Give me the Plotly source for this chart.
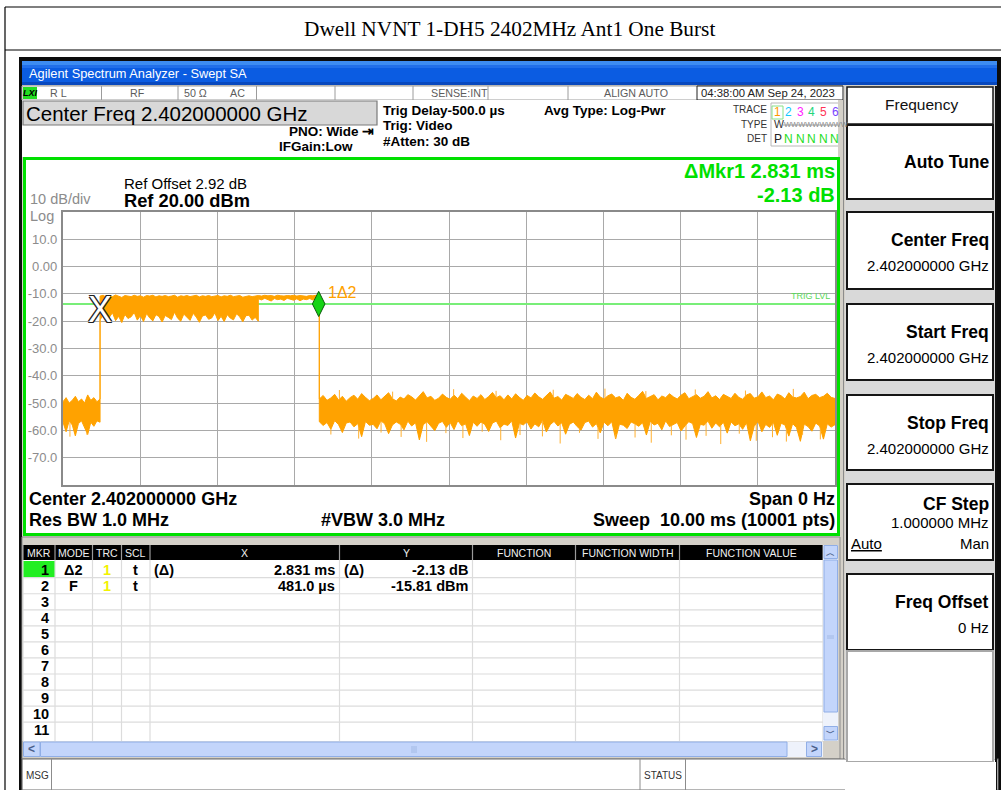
import numpy as np
import plotly.graph_objects as go

SANS = "Liberation Sans, Arial, sans-serif"
SERIF = "Liberation Serif, Times New Roman, serif"
W, H = 1001, 790

# ---------------------------------------------------------------------------
# Zero-span sweep (time in ms, level in dBm). Each segment keeps the upper and
# lower envelope of the displayed trace, sampled evenly between its end times.
# ---------------------------------------------------------------------------
SWEEP_MS = 10.0
REF_LEVEL_DBM = 20.0
BOTTOM_LEVEL_DBM = -80.0
TRIG_LEVEL_DBM = -13.7

pre_t0, pre_t1 = 0.00, 0.48
pre_hi = [-49.5, -48.0, -50.0, -49.0, -47.5, -49.5, -48.5, -50.0, -47.0, -49.0, -48.0, -49.5, -48.5]
pre_lo = [-57.0, -60.5, -56.5, -58.0, -62.0, -57.5, -56.5, -59.0, -61.5, -57.0, -58.5, -56.5, -57.0]

burst_a_t0, burst_a_t1 = 0.48, 2.53
burst_a_hi = [-10.8, -10.5, -11.2, -10.6, -11.0, -10.4, -10.9, -11.3, -10.6, -10.8,
              -11.0, -10.5, -10.9, -10.7, -11.2, -10.6, -10.8, -10.5, -11.1, -10.7,
              -10.9, -10.6, -11.0, -10.8, -10.5, -11.2, -10.7, -10.9, -10.6, -11.0,
              -10.8, -10.5, -11.1, -10.7, -10.9, -10.6, -11.0, -10.8, -10.6, -11.1,
              -10.7, -10.9, -10.5, -11.0, -10.8, -10.6, -11.2, -10.9, -10.7, -11.0,
              -10.8, -10.6]
burst_a_lo = [-19.5, -17.8, -20.2, -18.5, -16.9, -19.8, -18.2, -20.5, -17.5, -19.0,
              -18.4, -16.8, -19.6, -18.0, -20.1, -17.2, -18.8, -19.9, -17.6, -18.3,
              -20.3, -17.9, -18.6, -19.4, -16.7, -18.9, -20.0, -17.4, -18.7, -19.7,
              -17.1, -18.5, -20.4, -18.1, -17.7, -19.3, -18.8, -16.9, -19.8, -18.2,
              -20.1, -17.6, -18.9, -19.5, -17.3, -18.4, -20.2, -18.0, -17.8, -19.6,
              -18.6, -20.0]

burst_b_t0, burst_b_t1 = 2.53, 3.32
burst_b_hi = [-10.6, -10.8, -10.5, -10.7, -10.6, -10.9, -10.5, -10.7, -10.8, -10.6,
              -10.7, -10.5, -10.8, -10.6, -10.7, -10.9, -10.6, -10.7, -10.5, -10.7]
burst_b_lo = [-11.8, -12.2, -11.6, -12.0, -12.6, -11.7, -12.1, -11.9, -12.4, -11.6,
              -12.0, -12.3, -11.8, -12.5, -11.9, -12.1, -11.7, -12.2, -11.9, -12.0]

post_t0, post_t1 = 3.32, 10.00
post_hi = [-48.5, -47.2, -49.0, -48.1, -46.8, -48.9, -47.5, -49.3, -48.0, -47.1,
           -48.6, -46.5, -47.9, -49.1, -48.3, -47.0, -48.8, -47.6, -46.2, -48.4,
           -49.2, -47.8, -48.5, -46.9, -47.7, -48.9, -47.3, -45.8, -48.1, -47.5,
           -49.0, -48.2, -46.7, -47.9, -48.6, -47.1, -48.4, -46.4, -47.8, -49.1,
           -47.4, -48.3, -46.9, -48.7, -47.6, -46.1, -48.0, -47.3, -48.8, -47.0,
           -48.5, -46.6, -47.9, -49.0, -47.2, -48.1, -46.3, -47.7, -48.6, -47.4,
           -45.9, -48.2, -47.6, -48.9, -46.8, -47.5, -48.3, -46.5, -47.9, -48.7,
           -47.1, -48.4, -46.0, -47.8, -48.5, -47.3, -46.7, -48.1, -47.6, -49.0,
           -46.4, -47.9, -48.6, -47.2, -45.7, -48.3, -47.5, -46.9, -48.8, -47.4,
           -48.0, -46.6, -47.7, -48.5, -47.1, -46.2, -48.4, -47.8, -46.9, -48.2,
           -47.5, -45.8, -48.1, -47.3, -48.7, -46.8, -47.6, -48.3, -46.4, -47.9,
           -48.6, -47.0, -46.5, -48.2, -47.7, -45.9, -48.0, -47.4, -48.8, -46.7,
           -47.3, -48.5, -46.2, -47.8, -48.1, -47.6, -46.0, -48.4, -47.2, -46.8,
           -48.0, -47.5, -46.4, -47.9, -48.3]
post_lo = [-56.8, -58.2, -57.1, -59.6, -56.4, -57.9, -60.8, -57.3, -56.9, -58.7,
           -57.5, -62.3, -56.7, -58.1, -57.8, -59.4, -56.5, -57.6, -61.2, -58.0,
           -56.9, -57.7, -59.8, -56.6, -58.4, -57.2, -63.5, -57.9, -56.8, -58.6,
           -60.1, -57.4, -56.7, -58.9, -57.1, -59.7, -56.4, -58.3, -57.6, -61.9,
           -57.0, -58.5, -56.9, -57.8, -60.4, -57.3, -56.6, -59.1, -57.7, -58.2,
           -56.5, -62.8, -57.4, -58.0, -56.8, -59.5, -57.6, -58.7, -56.4, -60.6,
           -57.9, -56.7, -58.4, -57.2, -61.4, -57.8, -56.9, -58.6, -59.9, -57.1,
           -56.6, -58.8, -57.5, -60.9, -57.0, -58.3, -56.8, -63.1, -57.7, -58.1,
           -59.3, -56.9, -57.6, -58.5, -57.2, -61.7, -56.7, -58.0, -57.4, -59.8,
           -56.5, -58.6, -57.9, -57.1, -60.2, -58.4, -56.8, -57.5, -62.6, -57.8,
           -58.1, -56.6, -59.2, -57.3, -58.7, -57.0, -61.0, -56.9, -58.3, -57.6,
           -59.6, -57.2, -63.8, -58.5, -56.7, -60.5, -57.8, -58.9, -57.1, -61.8,
           -57.4, -58.0, -62.1, -57.5, -59.0, -64.0, -57.7, -58.6, -60.3, -57.3,
           -58.4, -63.2, -57.6, -58.8, -57.9]

# isolated narrow excursions of the noise floor
spike_dn_t = [0.09, 0.31, 3.47, 3.83, 4.12, 4.38, 4.71, 4.96, 5.18, 5.43, 5.67, 5.92,
              6.21, 6.44, 6.69, 6.93, 7.16, 7.41, 7.62, 7.88, 8.07, 8.33, 8.52,
              8.76, 8.98, 9.19, 9.37, 9.58, 9.81]
spike_dn_y = [-62.3, -61.6, -61.5, -63.0, -60.8, -62.4, -64.2, -61.0, -62.8, -60.5,
              -63.6, -61.7, -62.2, -64.8, -60.9, -63.1, -61.4, -62.6, -64.5, -61.8,
              -63.4, -62.0, -65.0, -61.2, -63.8, -62.5, -64.1, -61.6, -63.3]
spike_up_t = [3.58, 4.27, 5.06, 5.61, 6.35, 7.02, 7.55, 8.19, 8.84, 9.46]
spike_up_y = [-45.2, -45.8, -44.9, -45.5, -45.1, -44.7, -45.6, -45.0, -45.4, -44.8]

# markers
MKR2_TIME_US = 481.0
MKR2_LEVEL_DBM = -15.81
MKR1_DELTA_MS = 2.831
MKR1_DELTA_DB = -2.13

y_tick_vals = [10, 0, -10, -20, -30, -40, -50, -60, -70]
y_tick_text = ["10.0", "0.00", "-10.0", "-20.0", "-30.0", "-40.0", "-50.0", "-60.0", "-70.0"]

# marker table
table_cols = ["MKR", "MODE", "TRC", "SCL", "X", "Y", "FUNCTION", "FUNCTION WIDTH", "FUNCTION VALUE"]
mkr_rows = [str(i) for i in range(1, 12)]
mkr_mode = ["Δ2", "F"]
mkr_trc = ["1", "1"]
mkr_scl = ["t", "t"]
mkr_xref = ["(Δ)", ""]
mkr_x = [f"{MKR1_DELTA_MS:.3f} ms", f"{MKR2_TIME_US:.1f} µs"]
mkr_yref = ["(Δ)", ""]
mkr_y = [f"{MKR1_DELTA_DB:.2f} dB", f"{MKR2_LEVEL_DBM:.2f} dBm"]

# softkey menu
softkeys = [("Auto Tune", None), ("Center Freq", "2.402000000 GHz"), ("Start Freq", "2.402000000 GHz"),
            ("Stop Freq", "2.402000000 GHz"), ("CF Step", "1.000000 MHz"), ("Freq Offset", "0 Hz")]

# ---------------------------------------------------------------------------
# helpers working in screen pixels (origin top-left)
# ---------------------------------------------------------------------------
shapes, annots = [], []


def px(x):
    return x / W


def py(y):
    return 1 - y / H


def rect(x0, y0, x1, y1, fill=None, line=None, lw=1.0, layer="below"):
    shapes.append(dict(type="rect", xref="paper", yref="paper", x0=px(x0), x1=px(x1), y0=py(y1), y1=py(y0),
                       fillcolor=fill or "rgba(0,0,0,0)",
                       line=dict(color=line or "rgba(0,0,0,0)", width=lw if line else 0), layer=layer))


def seg(x0, y0, x1, y1, color, lw=1.0, layer="below"):
    shapes.append(dict(type="line", xref="paper", yref="paper", x0=px(x0), x1=px(x1), y0=py(y0), y1=py(y1),
                       line=dict(color=color, width=lw), layer=layer))


def txt(x, y, s, size=12, color="#000", bold=False, anchor="left", family=SANS, **font):
    annots.append(dict(xref="paper", yref="paper", x=px(x), y=py(y), text=f"<b>{s}</b>" if bold else s,
                       showarrow=False, xanchor=anchor, yanchor="middle", borderpad=0,
                       font=dict(size=size, color=color, family=family, **font)))


# ---------------------------------------------------------------------------
# page frame and caption
# ---------------------------------------------------------------------------
seg(5, 7, 1001, 7, "#000", 1.2)
seg(5, 7, 5, 790, "#000", 1.2)
seg(5, 50, 1001, 50, "#000", 1.2)
txt(509, 29, "Dwell NVNT 1-DH5 2402MHz Ant1 One Burst", size=21.3, anchor="center", family=SERIF)

# instrument window
rect(19, 57, 1001, 790, fill="#0c0c0c")
rect(22, 61, 997, 85, fill="#0b5ce2")
rect(22, 61, 997, 65, fill="#3d8cf2")
rect(22, 65, 997, 68, fill="#216fea")
rect(22, 82, 997, 85, fill="#0848be")
txt(28, 73.5, "Agilent Spectrum Analyzer - Swept SA", size=12.8, color="#ffffff")
rect(22, 85, 997, 790, fill="#d4d0c8")

# status strip
rect(22, 86, 843, 100, fill="#ffffff", line="#9c9c9c", lw=1)
rect(23, 87, 37, 99, fill="#22dd22")
txt(30, 93, "LXI", size=9, color="#000", bold=True, anchor="center", style="italic")
for xs in [101.5, 178, 256.5, 335, 413, 488, 568]:
    seg(xs, 86, xs, 100, "#9c9c9c", 1)
rect(697, 86, 843, 100, fill="#ffffff", line="#202020", lw=1)
STAT = "#5c5c5c"
txt(58, 93, "R L", size=10.7, color=STAT, anchor="center")
txt(137, 93, "RF", size=10.7, color=STAT, anchor="center")
txt(195, 93, "50 Ω", size=10.7, color=STAT, anchor="center")
txt(237, 93, "AC", size=10.7, color=STAT, anchor="center")
txt(459, 93, "SENSE:INT", size=10.7, color=STAT, anchor="center")
txt(636, 93, "ALIGN AUTO", size=10.7, color=STAT, anchor="center")
txt(768, 93, "04:38:00 AM Sep 24, 2023", size=11.3, color="#222", anchor="center")

# settings header
rect(22, 100, 843, 157, fill="#ffffff")
rect(23, 101, 377, 125, fill="#d8d8d8", line="#7a7a7a", lw=1.2)
txt(25, 113.5, "Center Freq 2.402000000 GHz", size=20.5, color="#000")
txt(375, 131.5, "PNO: Wide ⇥", size=13.5, bold=True, anchor="right")
txt(278, 146, "IFGain:Low", size=13.5, bold=True)
txt(382, 110.5, "Trig Delay-500.0 µs", size=13.5, bold=True)
txt(382, 126, "Trig: Video", size=13.5, bold=True)
txt(382, 142, "#Atten: 30 dB", size=13.5, bold=True)
txt(543, 110.5, "Avg Type: Log-Pwr", size=13.5, bold=True)

# trace status block
rect(771, 103, 842, 146, fill="#ffffff", line="#b8b8b8", lw=1)
rect(772, 106, 783, 119, fill="#ffffff", line="#88e088", lw=1)
txt(768, 110, "TRACE", size=10, color="#333", anchor="right")
txt(768, 124.5, "TYPE", size=10, color="#333", anchor="right")
txt(768, 138.5, "DET", size=10, color="#333", anchor="right")
trace_digit_colors = ["#ff9900", "#14c8ff", "#ff22ff", "#22d67a", "#ff3355", "#7a44ff"]
for i, c in enumerate(trace_digit_colors):
    txt(777 + i * 11.6, 112, str(i + 1), size=12, color=c, anchor="center")
txt(773, 124.5, "W", size=10.5, color="#333")
txt(783, 124.5, "WWWWWWWWW", size=7.5, color="#8a8a8a")
seg(783, 125, 839, 125, "#8a8a8a", 0.8)
txt(773, 138.5, "P", size=12, color="#222")
for i in range(5):
    txt(788.5 + i * 11.6, 138.5, "N", size=12, color="#22dd22", anchor="center")

# right gutter between display and softkeys
rect(838, 100, 845, 760, fill="#d4d0c8")
seg(843.5, 86, 843.5, 760, "#8c8c8c", 1)

# display panel
rect(24.5, 158.5, 838.5, 534.5, fill="#ffffff", line="#00e000", lw=3)
txt(123, 183, "Ref Offset 2.92 dB", size=15, color="#000")
txt(123, 200, "Ref 20.00 dBm", size=18.3, color="#000", bold=True)
txt(29, 199, "10 dB/div", size=14.5, color="#8c8c8c")
txt(29, 216, "Log", size=14.5, color="#8c8c8c")
txt(836, 171, f"ΔMkr1 {MKR1_DELTA_MS:.3f} ms", size=20, color="#00e000", bold=True, anchor="right")
txt(836, 195, f"{MKR1_DELTA_DB:.2f} dB", size=20, color="#00e000", bold=True, anchor="right")
txt(28, 499, "Center 2.402000000 GHz", size=18, bold=True)
txt(28, 520, "Res BW 1.0 MHz", size=18, bold=True)
txt(320, 520, "#VBW 3.0 MHz", size=18, bold=True)
txt(836, 499, "Span 0 Hz", size=18, bold=True, anchor="right")
txt(836, 520, "Sweep\u00a0\u00a010.00 ms (10001 pts)", size=18, bold=True, anchor="right")

# marker table
rect(22, 537, 840, 759, fill="#d4d0c8", line="#8c8c8c", lw=1)
rect(23, 545, 823, 741, fill="#ffffff")
rect(23, 545, 823, 560, fill="#000000")
col_edges = [23, 55, 92.5, 121.5, 150, 339.5, 472.5, 575.5, 679.5, 823]
for xs in col_edges:
    seg(xs, 545, xs, 560, "#9a9a9a", 1.2)
    seg(xs, 560, xs, 741, "#dcdcdc", 1.2)
for k in range(10):
    yr = 577.7 + 16.05 * k
    seg(23, yr, 823, yr, "#dcdcdc", 1.2)
for i, name in enumerate(table_cols):
    cx = (col_edges[i] + col_edges[i + 1]) / 2
    txt(cx, 552.5, name, size=10.5, color="#f0f0f0", anchor="center")
rect(23.5, 561, 54.5, 577, fill="#22ee22")
for i, r in enumerate(mkr_rows):
    txt(50, 569.5 + 16.05 * i, r, size=14.5, bold=True, anchor="right")
for i in range(len(mkr_mode)):
    yr = 569.5 + 16.05 * i
    txt(73.5, yr, mkr_mode[i], size=14.5, bold=True, anchor="center")
    txt(106.5, yr, mkr_trc[i], size=14.5, color="#f2f200", bold=True, anchor="center")
    txt(135.5, yr, mkr_scl[i], size=14.5, bold=True, anchor="center")
    if mkr_xref[i]:
        txt(153, yr, mkr_xref[i], size=14.5, bold=True)
    txt(335.5, yr, mkr_x[i], size=14.5, bold=True, anchor="right")
    if mkr_yref[i]:
        txt(343, yr, mkr_yref[i], size=14.5, bold=True)
    txt(468.5, yr, mkr_y[i], size=14.5, bold=True, anchor="right")

# scroll bars
SB = "#c3d5fb"
SBE = "#90aee6"
rect(823, 545, 838, 741, fill="#eef2fb")
rect(824, 560, 837.5, 712, fill=SB, line=SBE, lw=1)
rect(824, 545.5, 837.5, 558.5, fill=SB, line=SBE, lw=1)
rect(824, 726.5, 837.5, 740, fill=SB, line=SBE, lw=1)
txt(830.7, 552.5, "︿", size=9, color="#4a5f8a", anchor="center", bold=True)
txt(830.7, 733, "﹀", size=9, color="#4a5f8a", anchor="center", bold=True)
seg(827, 636, 834, 636, "#9ab3e0", 0.8)
seg(827, 638, 834, 638, "#9ab3e0", 0.8)
rect(23, 741.5, 823, 757, fill="#eef2fb")
rect(40.5, 742, 787, 756.5, fill=SB, line=SBE, lw=1)
rect(23.5, 742, 40, 756.5, fill=SB, line=SBE, lw=1)
rect(806.5, 742, 821.5, 756.5, fill=SB, line=SBE, lw=1)
txt(31.5, 749.3, "<", size=12, color="#4a5f8a", anchor="center", bold=True)
txt(814, 749.3, ">", size=12, color="#4a5f8a", anchor="center", bold=True)
for dx in (-2, 0, 2):
    seg(414 + dx, 746, 414 + dx, 753, "#9ab3e0", 0.8)

# message bar
rect(22, 759, 998, 790, fill="#ffffff", line="#6c6c6c", lw=1.2)
seg(51.5, 759, 51.5, 790, "#8c8c8c", 1)
seg(640, 759, 640, 790, "#8c8c8c", 1)
seg(685.5, 759, 685.5, 790, "#8c8c8c", 1)
txt(25, 775, "MSG", size=10, color="#333")
txt(663, 775, "STATUS", size=10, color="#333", anchor="center")

# softkey column
rect(845, 86, 996, 759, fill="#d9d9d9")
seg(996, 86, 996, 790, "#101010", 2)
rect(847, 87, 993, 124, fill="#ffffff", line="#151515", lw=1.5)
txt(921, 104, "Frequency", size=15.5, color="#111", anchor="center")
key_boxes = [(125, 199), (212, 289), (304, 380), (395, 470), (484, 560), (574, 650)]
for (top, bot), (title, value) in zip(key_boxes, softkeys):
    rect(847, top, 993, bot, fill="#ffffff", line="#151515", lw=2)
    if value is None:
        txt(990, (top + bot) / 2, title, size=17.5, bold=True, anchor="right")
    elif title == "CF Step":
        txt(990, top + 20, title, size=17.5, bold=True, anchor="right")
        txt(990, top + 38.5, value, size=15, anchor="right")
        txt(850, top + 59, "<u>Auto</u>", size=15)
        txt(990, top + 59, "Man", size=15, anchor="right")
    else:
        txt(990, top + 28, title, size=17.5, bold=True, anchor="right")
        txt(990, top + 53, value, size=15, anchor="right")
rect(847, 651, 993, 762, fill="#ffffff", line="#a8a8a8", lw=2)
rect(845, 762, 996, 790, fill="#ffffff")

# ---------------------------------------------------------------------------
# trace geometry from the sampled envelopes
# ---------------------------------------------------------------------------
segments = [(pre_t0, pre_t1, pre_hi, pre_lo),
            (burst_a_t0, burst_a_t1, burst_a_hi, burst_a_lo),
            (burst_b_t0, burst_b_t1, burst_b_hi, burst_b_lo),
            (post_t0, post_t1, post_hi, post_lo)]
t_all, hi_all, lo_all = [], [], []
for t0, t1, hi, lo in segments:
    t_all += list(np.linspace(t0, t1, len(hi)))
    hi_all += list(hi)
    lo_all += list(lo)
band_x = t_all + t_all[::-1]
band_y = hi_all + lo_all[::-1]

sx, sy = [], []
for t, v in zip(spike_dn_t, spike_dn_y):
    sx += [t, t, None]
    sy += [float(np.interp(t, t_all, lo_all)), v, None]
for t, v in zip(spike_up_t, spike_up_y):
    sx += [t, t, None]
    sy += [float(np.interp(t, t_all, hi_all)), v, None]

mkr2_t = MKR2_TIME_US / 1000.0
mkr1_t = mkr2_t + MKR1_DELTA_MS
mkr1_y = MKR2_LEVEL_DBM - MKR1_DELTA_DB

ORANGE = "#ffa200"
fig = go.Figure()
fig.add_trace(go.Scatter(x=[0, SWEEP_MS], y=[TRIG_LEVEL_DBM, TRIG_LEVEL_DBM], mode="lines",
                         line=dict(color="#78ee78", width=2), hoverinfo="skip"))
fig.add_trace(go.Scatter(x=band_x, y=band_y, mode="lines", fill="toself", fillcolor=ORANGE,
                         line=dict(color=ORANGE, width=1), hoverinfo="skip"))
fig.add_trace(go.Scatter(x=sx, y=sy, mode="lines", line=dict(color="#ffb030", width=1), hoverinfo="skip"))
fig.add_trace(go.Scatter(x=[mkr1_t], y=[mkr1_y], mode="markers",
                         marker=dict(symbol="diamond-tall", size=18, color="#14d414",
                                     line=dict(color="#0a5a0a", width=1)), hoverinfo="skip"))

annots.append(dict(xref="x", yref="y", x=mkr2_t, y=MKR2_LEVEL_DBM, text="X", showarrow=False,
                   xanchor="center", yanchor="middle",
                   font=dict(size=36, color="#ffffff", family=SANS,
                             shadow="1px 1px 0 #222, -1px -1px 0 #222, 1px -1px 0 #222, -1px 1px 0 #222")))
annots.append(dict(xref="x", yref="y", x=mkr1_t, y=mkr1_y, text="1Δ2", showarrow=False,
                   xanchor="left", yanchor="middle", xshift=7, yshift=11,
                   font=dict(size=16, color=ORANGE, family=SANS)))
annots.append(dict(xref="x", yref="y", x=SWEEP_MS, y=TRIG_LEVEL_DBM, text="TRIG LVL", showarrow=False,
                   xanchor="right", yanchor="bottom", xshift=-3, yshift=1,
                   font=dict(size=9, color="#5ad85a", family=SANS)))

fig.update_layout(
    width=W, height=H, margin=dict(l=0, r=0, t=0, b=0),
    paper_bgcolor="#ffffff", plot_bgcolor="#ffffff", showlegend=False,
    font=dict(family=SANS),
    shapes=shapes, annotations=annots,
    xaxis=dict(domain=[63 / W, 835 / W], range=[0, SWEEP_MS], tick0=0, dtick=1, showgrid=True,
               gridcolor="#a9a9a9", gridwidth=1.3, zeroline=False, showticklabels=False, ticks="",
               showline=True, mirror=True, linecolor="#8a8a8a", linewidth=2.2, fixedrange=True),
    yaxis=dict(domain=[1 - 485 / H, 1 - 212 / H], range=[BOTTOM_LEVEL_DBM, REF_LEVEL_DBM],
               tickvals=y_tick_vals, ticktext=y_tick_text, showgrid=True, gridcolor="#a9a9a9",
               gridwidth=1.3, zeroline=False, ticks="", ticklabelstandoff=1,
               tickfont=dict(size=13, color="#8c8c8c", family=SANS),
               showline=True, mirror=True, linecolor="#8a8a8a", linewidth=2.2, fixedrange=True),
)

fig.write_html("out.html")
